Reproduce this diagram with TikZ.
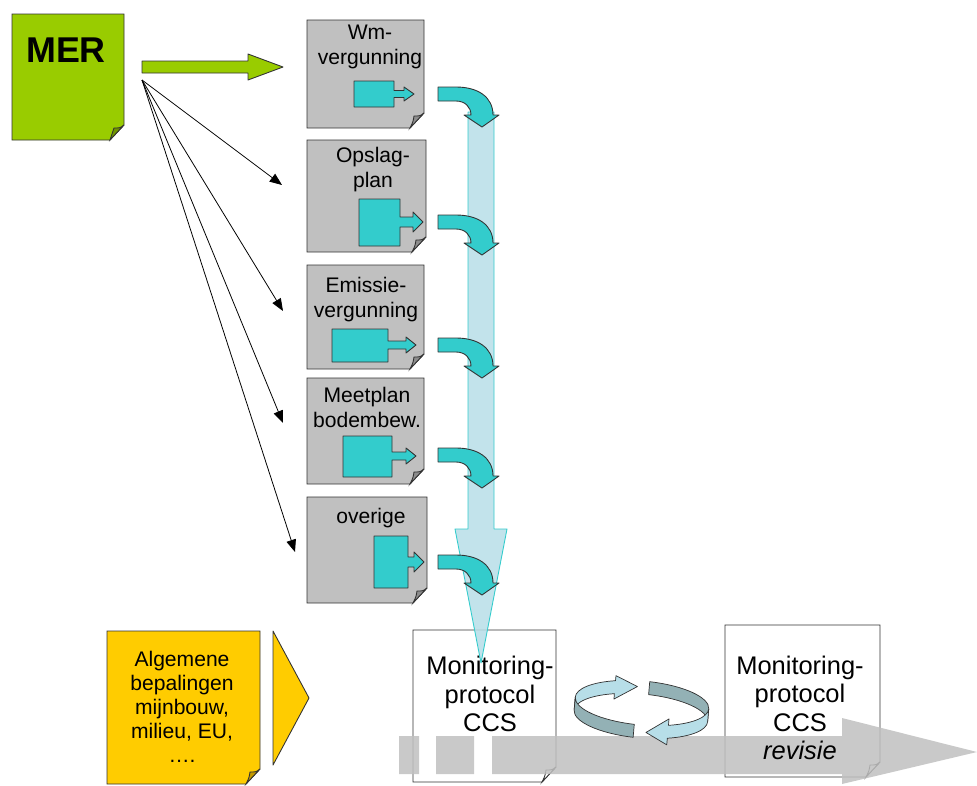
\documentclass[tikz,border=0pt]{standalone}
\usepackage{fontspec}
\setmainfont{Liberation Sans}
\usetikzlibrary{arrows.meta,backgrounds}
\definecolor{mergroen}{HTML}{99CC00}
\definecolor{mergroendonker}{HTML}{6F9400}
\definecolor{bladgrijs}{HTML}{C0C0C0}
\definecolor{bladgrijsdonker}{HTML}{8C8C8C}
\definecolor{geel}{HTML}{FFCC00}
\definecolor{geeldonker}{HTML}{C49A00}
\definecolor{turkoois}{HTML}{33CCCC}
\definecolor{lichtblauw}{HTML}{B7DEE8}
\definecolor{ringdonker}{HTML}{93B1B5}

% blad met omgevouwen hoek: x1,y1,x2,y2,vulling,hoek
\newcommand\blad[6]{%
  \filldraw[blad,fill=#5] (#1,#2) -- (#3,#2) -- (#3,#4-15) -- (#3-14,#4) -- (#1,#4) -- cycle;
  \filldraw[blad,fill=#6] (#3,#4-15) .. controls (#3-4,#4-12) .. (#3-10,#4-12) .. controls (#3-11,#4-6) .. (#3-14,#4) -- cycle;}
% vakje met pijl naar rechts: x1,y1,x2,y2,punt,midden,halve kop
\newcommand\vakpijl[7]{%
  \filldraw[vak] (#1,#2) -- (#3,#2) -- (#3,#6-#7/2) -- (#5-10,#6-#7/2) -- (#5-10,#6-#7) -- (#5,#6) -- (#5-10,#6+#7) -- (#5-10,#6+#7/2) -- (#3,#6+#7/2) -- (#3,#4) -- (#1,#4) -- cycle;}
% gebogen pijl naar beneden
\newcommand\bocht[2]{%
  \filldraw[bochtpijl,shift={(#1,#2)}] (0,0) -- (18,0) .. controls (40,0) and (55,10) .. (55,28) -- (61,28) -- (44,40) -- (26,28) -- (33,28) .. controls (33,20) and (27,14) .. (18,14) -- (0,14) -- cycle;}

\begin{document}
\begin{tikzpicture}[x=0.02cm,y=-0.02cm,line join=round,
  blad/.style={draw=black!80,line width=0.5pt},
  vak/.style={fill=turkoois,draw=black!80,line width=0.5pt},
  bochtpijl/.style={fill=turkoois,draw=black!80,line width=0.5pt},
  lijn/.style={-{Triangle[length=7pt,width=5.5pt]},line width=0.45pt},
  tekst/.style={align=center,font=\fontsize{12}{14.2}\selectfont,inner sep=0pt},
  monitor/.style={align=center,font=\fontsize{14.5}{16.2}\selectfont,inner sep=0pt},
  ring/.style={draw=black!80,line width=0.4pt}]
\useasboundingbox (0,0) rectangle (977,785);
\begin{scope}[on background layer]
\blad{12}{14}{124}{140}{mergroen}{mergroendonker}
\blad{307}{20}{424}{128}{bladgrijs}{bladgrijsdonker}
\blad{307}{140}{426}{252}{bladgrijs}{bladgrijsdonker}
\blad{307}{265}{424}{369}{bladgrijs}{bladgrijsdonker}
\blad{307}{378}{424}{484}{bladgrijs}{bladgrijsdonker}
\blad{307}{497}{427}{603}{bladgrijs}{bladgrijsdonker}
\blad{107}{631}{260}{784}{geel}{geeldonker}
\blad{413}{630}{556}{782}{white}{white}
\blad{725}{625}{880}{777}{white}{white}
% grijze tijdlijn
\fill[bladgrijs,fill opacity=0.85] (399,736) rectangle (419,774) (436,736) rectangle (474,774);
\fill[bladgrijs,fill opacity=0.85] (492,736) -- (842,736) -- (842,718) -- (977,752) -- (842,784) -- (842,774) -- (492,774) -- cycle;
\end{scope}
\node[inner sep=0pt,font=\fontsize{20.4}{24}\selectfont\bfseries] (mer) at (66,50) {MER};
\node[tekst] (wm) at (370,47) {Wm-\\vergunning};
\node[tekst] (opslag) at (373,170) {Opslag-\\plan};
\node[tekst] (emissie) at (366,300) {Emissie-\\vergunning};
\node[tekst] (meetplan) at (367,407) {Meetplan\\bodembew.};
\node[tekst] (overige) at (371,518) {overige};
\node[tekst,font=\fontsize{12}{13.6}\selectfont] (algemeen) at (182,707) {Algemene\\bepalingen\\mijnbouw,\\milieu, EU,\\….};
\node[monitor] (mon1) at (490,694) {Monitoring-\\protocol\\CCS};
\node[monitor] (mon2) at (800,708) {Monitoring-\\protocol\\CCS\\\textit{revisie}};
% vakjes in de bladen
\vakpijl{354}{81}{394}{107}{414}{94}{7}
\vakpijl{359}{199}{400}{246}{423}{222}{10}
\vakpijl{332}{329}{388}{362}{416}{345}{8}
\vakpijl{343}{436}{392}{477}{416}{456}{8}
\vakpijl{374}{536}{408}{588}{424}{562}{10}
% groene pijl en lijnen vanuit MER
\filldraw[blad,fill=mergroen] (142,61) -- (248,61) -- (248,54) -- (283,67) -- (248,80) -- (248,73) -- (142,73) -- cycle;
\coordinate (mer-uit) at (142,80);
\coordinate (naar-opslag) at (282,185);
\coordinate (naar-emissie) at (283,311);
\coordinate (naar-meetplan) at (283,423);
\coordinate (naar-overige) at (295,552);
\foreach \d in {naar-opslag,naar-emissie,naar-meetplan,naar-overige}{\draw[lijn] (mer-uit) -- (\d);}
\filldraw[blad,fill=geel] (273,631) -- (309,698) -- (273,765) -- cycle;
% brede pijl naar het protocol
\filldraw[draw=turkoois,fill=lichtblauw,fill opacity=0.85,line width=0.5pt] (468,112) -- (494,112) -- (494,529) -- (507,529) -- (481,663) -- (455,529) -- (468,529) -- cycle;
\foreach \y in {87,215,338,448,555}{\bocht{438}{\y}}
% kringloop
\begin{scope}[shift={(642,703)},rotate=-5]
\filldraw[ring,fill=lichtblauw] (180:67 and 22) arc[start angle=180,end angle=245,x radius=67,y radius=22] -- (-28.3,-25) -- (-6,-16) -- (-28.3,-1.5) -- (-28.3,-6.9) arc[start angle=245,end angle=180,x radius=67,y radius=22] -- cycle;
\filldraw[ring,fill=ringdonker] (275:67 and 22) arc[start angle=275,end angle=360,x radius=67,y radius=22] -- (67,13) arc[start angle=360,end angle=275,x radius=67,y radius=22] -- cycle;
\filldraw[ring,fill=ringdonker] (180:67 and 22) arc[start angle=180,end angle=95,x radius=67,y radius=22] -- ++(0,13) arc[start angle=95,end angle=180,x radius=67,y radius=22] -- cycle;
\filldraw[ring,fill=lichtblauw] (0:67 and 22) arc[start angle=0,end angle=65,x radius=67,y radius=22] -- (28.3,13.5) -- (6.5,29) -- (28.3,39.5) -- (28.3,32.9) arc[start angle=65,end angle=0,x radius=67,y radius=22] -- cycle;
\end{scope}
\end{tikzpicture}
\end{document}
